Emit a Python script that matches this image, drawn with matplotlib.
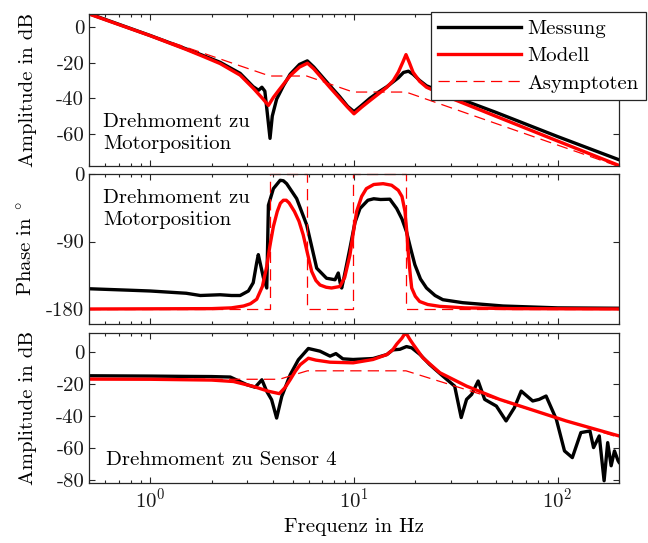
import matplotlib
matplotlib.use("Agg")
import matplotlib.pyplot as plt

plt.rcParams['font.family'] = 'cmr10'
plt.rcParams['mathtext.fontset'] = 'cm'
plt.rcParams['axes.unicode_minus'] = False
plt.rcParams['axes.formatter.use_mathtext'] = True
plt.rcParams['font.size'] = 15

# --- Drehmoment zu Motorposition: Amplitude ---
f_mess_amp1 = [0.5, 1.0, 1.5, 1.8, 2.2, 2.76, 3.2, 3.4, 3.53, 3.65, 3.75, 3.87, 3.97, 4.17,
               4.5, 4.86, 5.4, 5.9, 6.35, 6.81, 7.63, 8.5, 9.3, 10.0, 10.9, 11.97, 13.2,
               14.5, 16.5, 17.5, 18.5, 19.5, 21.0, 22.7, 30.0, 50.0, 100.0, 200.0]
mess_amp1 = [7.5, -4.8, -12.3, -15.8, -19.8, -26.0, -33.5, -35.5, -33.8, -36.0, -48.0, -62.5,
             -50.0, -40.5, -33.0, -26.5, -21.0, -19.0, -22.5, -26.5, -33.0, -39.0, -44.5, -47.5,
             -44.0, -40.0, -36.5, -33.5, -28.5, -25.5, -24.8, -26.5, -30.0, -33.0, -38.5,
             -48.0, -61.5, -74.5]

f_mod_amp1 = [0.5, 1.0, 1.5, 1.8, 2.2, 2.76, 3.21, 3.55, 3.80, 4.02, 4.26, 4.86, 5.4, 5.91,
              6.35, 6.81, 7.63, 8.5, 9.3, 10.0, 10.9, 11.97, 13.2, 14.5, 15.6, 16.5, 17.4,
              18.0, 18.7, 19.5, 21.0, 22.7, 30.0, 50.0, 100.0, 200.0]
mod_amp1 = [7.3, -4.9, -12.6, -16.3, -20.5, -27.0, -34.5, -40.0, -44.0, -39.5, -35.7, -27.3,
            -22.5, -20.3, -23.5, -27.5, -34.0, -40.0, -45.0, -48.7, -45.0, -41.3, -37.5,
            -33.8, -30.0, -25.4, -19.5, -15.5, -20.0, -25.4, -30.5, -33.8, -40.0, -50.2,
            -64.0, -77.7]

f_asym_amp1 = [0.5, 3.86, 5.86, 9.9, 18.0, 200.0]
asym_amp1 = [7.3, -27.5, -27.5, -36.5, -36.5, -78.3]

# --- Drehmoment zu Motorposition: Phase ---
f_mess_ph = [0.5, 0.8, 1.0, 1.5, 1.76, 2.2, 2.5, 2.76, 3.03, 3.2, 3.33, 3.39, 3.47, 3.59,
             3.73, 3.80, 4.02, 4.34, 4.5, 4.67, 5.23, 5.86, 6.56, 7.33, 8.07, 8.37, 8.55,
             8.7, 8.9, 9.55, 10.1, 10.7, 11.7, 12.5, 13.5, 15.0, 16.2, 17.2, 18.1, 19.0,
             19.9, 21.2, 22.7, 25.0, 27.3, 34.2, 53.9, 100.0, 200.0]
mess_ph = [-153, -155, -156, -159, -162, -161, -162, -162, -156, -145, -118, -107.5, -120,
           -138, -152, -41.6, -19.5, -8.4, -9, -12.9, -32.8, -68, -125.6, -139, -141, -132,
           -145, -152, -140, -99, -65, -46, -35, -33, -34, -33.6, -46, -60, -77, -100, -121,
           -140, -152, -162, -167.6, -171.6, -176, -178.5, -179]

f_mod_ph = [0.5, 2.0, 2.5, 2.87, 3.1, 3.33, 3.55, 3.73, 3.87, 4.02, 4.2, 4.35, 4.5, 4.65,
            4.8, 5.1, 5.37, 5.63, 5.9, 6.2, 6.5, 6.81, 7.3, 7.76, 8.52, 9.0, 9.55, 9.9,
            10.3, 10.9, 11.5, 12.5, 13.9, 15.3, 16.5, 17.2, 17.8, 18.2, 18.5, 18.9, 19.2,
            20.0, 21.0, 23.0, 26.4, 35.0, 60.0, 200.0]
mod_ph = [-180, -179.5, -178.5, -176, -173, -167, -150, -123, -95, -70, -50, -39, -35, -35,
          -38.5, -50, -63, -81, -105, -130, -142, -148, -151, -152, -150, -138, -108, -80,
          -50, -30, -19.5, -14, -12.9, -15, -21.7, -30, -50, -80, -108, -135, -152, -163,
          -170, -174, -176.5, -178.5, -179.5, -180]

f_asym_ph = [0.5, 3.86, 3.86, 5.86, 5.86, 9.9, 9.9, 18.0, 18.0, 200.0]
asym_ph = [-180, -180, 0, 0, -180, -180, 0, 0, -180, -180]

# --- Drehmoment zu Sensor 4: Amplitude ---
f_mess_amp2 = [0.5, 1.0, 1.5, 2.0, 2.3, 2.47, 2.98, 3.27, 3.53, 3.73, 3.94, 4.17, 4.42, 4.86,
               5.33, 5.97, 6.81, 7.63, 8.15, 8.82, 9.9, 12.4, 14.5, 15.5, 16.8, 18.1, 19.2,
               21.1, 23.5, 27.3, 31.2, 33.6, 35.7, 37.8, 40.7, 43.8, 50.0, 55.8, 61.3, 66.2,
               75.4, 81.1, 87.7, 98.5, 108, 118, 130, 144, 150, 160, 169, 176, 183, 190, 198,
               200]
mess_amp2 = [-14.8, -15.0, -15.2, -15.3, -15.5, -15.6, -20.4, -22.0, -17.3, -24.6, -29.8,
             -41.3, -27.7, -14.2, -4.8, 2.3, 0.6, -2.5, -0.9, -4.2, -4.6, -4.0, -1.5, 1.4,
             1.8, 3.5, 2.7, -1.5, -7.7, -15.0, -21.3, -41.0, -29.6, -26.5, -18.1, -29.6,
             -33.8, -43.1, -34.8, -24.4, -30.6, -29.6, -27.5, -42.1, -61.9, -66.1, -50.4,
             -49.4, -59.8, -52.5, -80.6, -56.7, -71.2, -61.9, -68.1, -69.0]

f_mod_amp2 = [0.5, 1.0, 2.0, 2.56, 3.21, 3.8, 4.3, 4.6, 4.86, 5.15, 5.44, 5.97, 6.5, 7.63,
              9.9, 12.4, 14.5, 15.5, 16.2, 17.2, 17.6, 17.95, 18.3, 18.8, 19.5, 21.8, 26.4,
              35.7, 51.8, 75.4, 110, 200]
mod_amp2 = [-16.9, -17.0, -17.5, -18.4, -21.5, -24.5, -26.0, -22.0, -17.3, -12.0, -7.9, -3.8,
            -5.0, -6.3, -6.7, -4.6, -1.5, 1.5, 5.0, 8.8, 10.8, 12.0, 10.5, 8.0, 5.0, -3.6,
            -12.9, -21.3, -29.6, -36.3, -43.1, -52.5]

f_asym_amp2 = [0.5, 4.3, 5.9, 18.0, 200.0]
asym_amp2 = [-17.0, -17.0, -11.7, -11.7, -53.5]

yticks_amp1 = [0, -20, -40, -60]
yticks_ph = [0, -90, -180]
yticks_amp2 = [0, -20, -40, -60, -80]

schwarz = '#000000'
rot = '#ff0000'
achse = '#262626'

fig = plt.figure(figsize=(6.48, 5.43), dpi=100)
links = 89 / 648
breite = 530 / 648
ax1 = fig.add_axes([links, 1 - 166 / 543, breite, 152 / 543])
ax2 = fig.add_axes([links, 1 - 324 / 543, breite, 150 / 543])
ax3 = fig.add_axes([links, 1 - 483 / 543, breite, 150 / 543])

l1, = ax1.semilogx(f_mess_amp1, mess_amp1, color=schwarz, lw=2.4, label='Messung')
l2, = ax1.semilogx(f_mod_amp1, mod_amp1, color=rot, lw=2.4, label='Modell')
l3, = ax1.semilogx(f_asym_amp1, asym_amp1, color=rot, lw=0.9, dashes=(9, 5), label='Asymptoten')

ax2.semilogx(f_mess_ph, mess_ph, color=schwarz, lw=2.4)
ax2.semilogx(f_mod_ph, mod_ph, color=rot, lw=2.4)
ax2.semilogx(f_asym_ph, asym_ph, color=rot, lw=0.9, dashes=(9, 5), clip_on=False)

ax3.semilogx(f_mess_amp2, mess_amp2, color=schwarz, lw=2.4)
ax3.semilogx(f_mod_amp2, mod_amp2, color=rot, lw=2.4)
ax3.semilogx(f_asym_amp2, asym_amp2, color=rot, lw=0.9, dashes=(9, 5))

ax1.set_ylim(-78, 7.3)
ax2.set_ylim(-200, 0)
ax3.set_ylim(-82, 12)

ax1.set_yticks(yticks_amp1)
ax1.set_yticklabels([str(v) for v in yticks_amp1])
ax2.set_yticks(yticks_ph)
ax2.set_yticklabels([str(v) for v in yticks_ph])
ax3.set_yticks(yticks_amp2)
ax3.set_yticklabels([str(v) for v in yticks_amp2])

for ax in (ax1, ax2, ax3):
    ax.set_xlim(0.5, 200)
    ax.tick_params(which='both', direction='in', top=True, right=True, colors=achse,
                   labelcolor='#1a1a1a', width=0.8)
    ax.tick_params(which='major', length=4.5)
    ax.tick_params(which='minor', length=2.5)
    for s in ax.spines.values():
        s.set_color(achse)
        s.set_linewidth(0.9)

ax1.tick_params(labelbottom=False)
ax2.tick_params(labelbottom=False)

ax1.set_ylabel('Amplitude in dB')
ax2.set_ylabel(r'Phase in$\;^\circ$')
ax3.set_ylabel('Amplitude in dB')
ax3.set_xlabel('Frequenz in Hz')
for ax in (ax1, ax2, ax3):
    ax.yaxis.set_label_coords(-0.099, 0.5)

ax1.text(0.026, 0.35, 'Drehmoment zu\nMotorposition', transform=ax1.transAxes,
         va='top', ha='left', linespacing=1.3)
ax2.text(0.026, 0.90, 'Drehmoment zu\nMotorposition', transform=ax2.transAxes,
         va='top', ha='left', linespacing=1.3)
ax3.text(0.032, 0.215, 'Drehmoment zu Sensor 4', transform=ax3.transAxes,
         va='top', ha='left')

leg = fig.legend(handles=[l1, l2, l3], loc='upper right',
                 bbox_to_anchor=(646 / 648, 1 - 12 / 543), borderaxespad=0,
                 handlelength=4.0, handletextpad=0.3, borderpad=0.35, labelspacing=0.42,
                 fancybox=False, framealpha=1, edgecolor=achse)
leg.get_frame().set_linewidth(0.9)

fig.savefig('out.png', dpi=100)
